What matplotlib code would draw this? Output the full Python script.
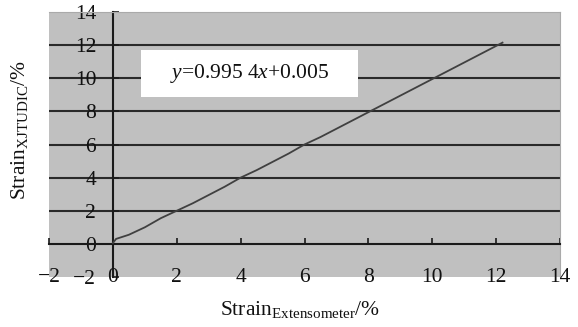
import matplotlib
matplotlib.use("Agg")
import matplotlib.pyplot as plt

plt.rcParams['font.family'] = ['Liberation Serif', 'DejaVu Serif']
plt.rcParams['mathtext.fontset'] = 'custom'
plt.rcParams['mathtext.rm'] = 'Liberation Serif'
plt.rcParams['mathtext.it'] = 'Liberation Serif:italic'

# data
strain_ext = [0.0, 0.1, 0.5, 1.0, 1.5, 2.0, 2.5, 3.0, 3.5, 4.0, 4.5, 5.0, 5.5, 6.0, 6.5, 7.0,
              7.5, 8.0, 8.5, 9.0, 9.5, 10.0, 10.5, 11.0, 11.5, 12.0, 12.2]
strain_dic = [0.05, 0.3, 0.55, 1.0, 1.55, 2.0, 2.45, 2.95, 3.45, 4.0, 4.45, 4.95, 5.45, 6.0, 6.45, 6.95,
              7.45, 7.95, 8.45, 8.95, 9.45, 9.95, 10.45, 10.95, 11.45, 11.95, 12.15]
x_ticks = [-2, 0, 2, 4, 6, 8, 10, 12, 14]
y_ticks = [-2, 0, 2, 4, 6, 8, 10, 12, 14]
grid_levels = [2, 4, 6, 8, 10, 12]
equation = r'$y$=0.995 4$x$+0.005'

fig = plt.figure(figsize=(5.78, 3.27), dpi=100)
ax = fig.add_axes([49/578, 50/327, 511/578, 265/327])
ax.set_facecolor('#c0c0c0')
ax.set_xlim(-2, 14)
ax.set_ylim(-2, 14)

for g in grid_levels:
    ax.axhline(g, color='#2a2a2a', lw=1.5, zorder=1)

ax.plot(strain_ext, strain_dic, color='#404040', lw=1.3, zorder=3)

ax.spines['left'].set_position(('data', 0))
ax.spines['bottom'].set_position(('data', 0))
for s in ['left', 'bottom']:
    ax.spines[s].set_color('#1a1a1a')
    ax.spines[s].set_linewidth(1.5)
for s in ['top', 'right']:
    ax.spines[s].set_color('#aaaaaa')
    ax.spines[s].set_linewidth(0.8)

ax.set_xticks(x_ticks)
ax.set_yticks(y_ticks)
ax.tick_params(axis='x', direction='in', length=4, width=1.2, color='#1a1a1a', labelbottom=False)
ax.tick_params(axis='y', direction='in', length=4, width=1.2, color='#1a1a1a', pad=12,
               labelsize=15.5, labelcolor='#111111')
ax.set_yticklabels([str(t).replace('-', '\u2212') for t in y_ticks])

for t in x_ticks:
    ax.text(t, -2, str(t).replace('-', '\u2212'), ha='center', va='center',
            fontsize=15.5, color='#111111', zorder=5, clip_on=False)

ax.text(4.28, 10.3, equation, ha='center', va='center', fontsize=15.5, color='#111111',
        zorder=6, bbox=dict(boxstyle='square,pad=0', facecolor='white', edgecolor='none'))
from matplotlib.patches import Rectangle
ax.add_patch(Rectangle((0.875, 8.88), 6.8, 2.82, facecolor='white', edgecolor='none', zorder=4))

fig.text(300/578, 1 - 309/327, r'Strain$_{\mathrm{Extensometer}}$/%', ha='center', va='center',
         fontsize=15.5, color='#111111')
fig.text(20/578, 1 - 130/327, r'Strain$_{\mathrm{XJTUDIC}}$/%', ha='center', va='center',
         rotation=90, fontsize=15.5, color='#111111')

fig.savefig('out.png', dpi=100)
